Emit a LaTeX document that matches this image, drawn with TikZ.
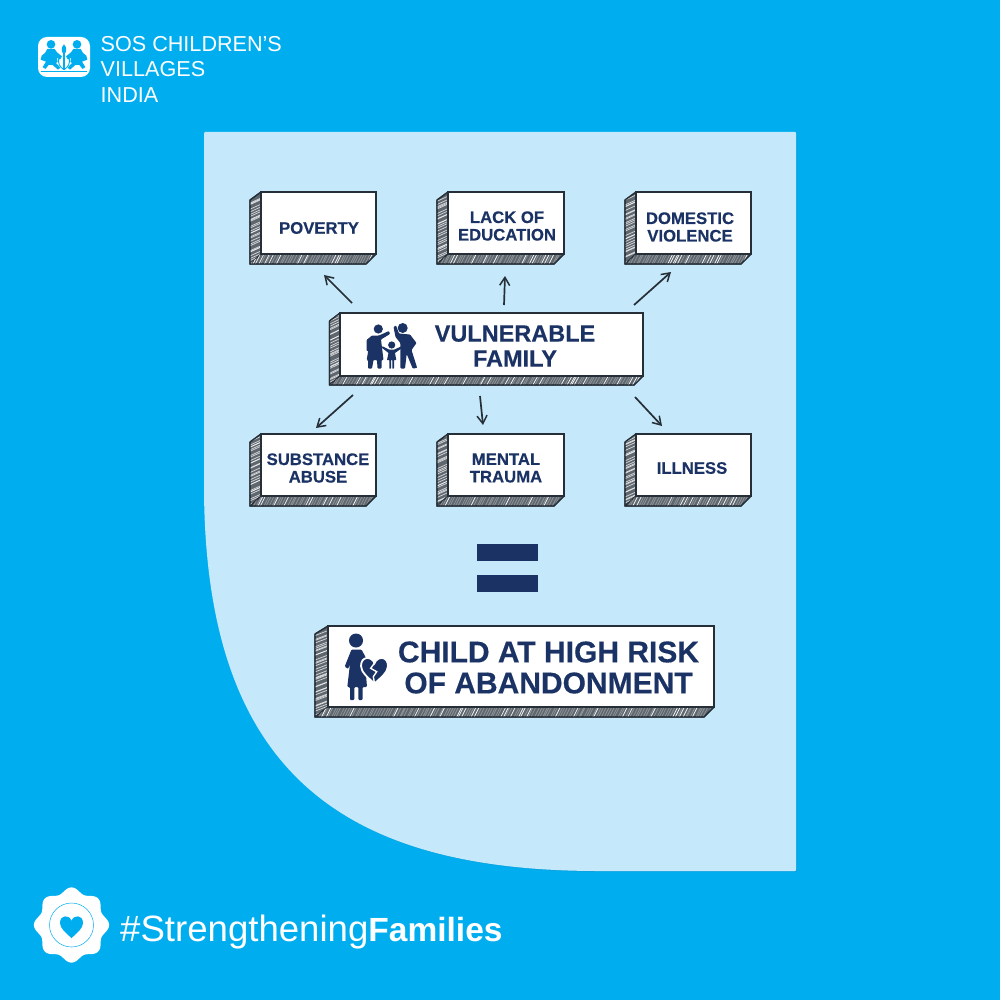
\documentclass[tikz,border=0pt]{standalone}
\usepackage{fontspec}
\setmainfont{Liberation Sans}
\newfontfamily\heavyfont[FakeBold=0.35]{Liberation Sans Bold}
\usetikzlibrary{arrows.meta}
\definecolor{bgblue}{HTML}{00AEEF}
\definecolor{shadeblue}{HTML}{0AA4E2}
\definecolor{paper}{HTML}{C5E8FA}
\definecolor{navy}{HTML}{1B3264}
\definecolor{ink}{HTML}{262F38}
\definecolor{hatchmid}{HTML}{5F676E}
\tikzset{
  front/.style={draw=ink,fill=white,line width=1.4pt,inner sep=0pt,rectangle},
  sidewall/.style={fill=hatchmid,draw=ink,line width=1.2pt,line join=round},
  lab/.style={text=navy,font=\heavyfont\fontsize{16.7}{17.5}\selectfont,align=center,inner sep=0pt},
  biglab/.style={text=navy,font=\heavyfont\fontsize{23.5}{25}\selectfont,align=center,inner sep=0pt},
  hugelab/.style={text=navy,font=\heavyfont\fontsize{30}{31}\selectfont,align=center,inner sep=0pt},
  link/.style={draw=ink,line width=1.7pt,-{Straight Barb[length=8pt,width=10pt,line width=1.5pt]}},
  icon/.style={fill=navy,draw=none},
  whiteicon/.style={fill=white,draw=none},
  blueicon/.style={fill=bgblue,draw=none},
}
% #1 name #2 x0 #3 y0 #4 x1 #5 y1 #6 side depth #7 bottom depth
\newcommand{\solidbox}[7]{%
  \pgfmathsetmacro{\bxFl}{#2+#6}
  \pgfmathsetmacro{\bxFb}{#5-#7}
  \pgfmathsetmacro{\bxSlx}{#4-#7}
  \pgfmathsetmacro{\bxSly}{#3+8}
  % side wall
  \path[sidewall] (#2,\bxSly) -- (\bxFl,#3) -- (\bxFl,\bxFb) -- (#2,#5) -- cycle;
  \begin{scope}
    \clip (#2,\bxSly) -- (\bxFl,#3) -- (\bxFl,\bxFb) -- (#2,#5) -- cycle;
    \pgfmathsetmacro{\bxSta}{#3}
    \pgfmathsetmacro{\bxStb}{#3+2.4}
    \foreach \yy in {\bxSta,\bxStb,...,#5}{
      \pgfmathsetmacro{\bxSh}{rnd*4-2}
      \draw[white,opacity=.72,line width=.75pt] (#2,\yy+\bxSh+2) -- (\bxFl,\yy+\bxSh-3);
    }
  \end{scope}
  % bottom wall
  \path[sidewall] (#2,#5) -- (\bxFl,\bxFb) -- (#4,\bxFb) -- (\bxSlx,#5) -- cycle;
  \begin{scope}
    \clip (#2,#5) -- (\bxFl,\bxFb) -- (#4,\bxFb) -- (\bxSlx,#5) -- cycle;
    \pgfmathsetmacro{\bxSta}{#2}
    \pgfmathsetmacro{\bxStb}{#2+2.6}
    \foreach \xx in {\bxSta,\bxStb,...,#4}{
      \pgfmathsetmacro{\bxSh}{rnd*1.6}
      \pgfmathsetmacro{\bxOp}{rnd<.22 ? .95 : .3}
      \draw[white,opacity=\bxOp,line width=.75pt] (\xx+\bxSh,#5) -- (\xx+\bxSh+5,\bxFb);
    }
  \end{scope}
  \draw[ink,line width=1.2pt,line join=round] (#2,\bxSly) -- (\bxFl,#3) (#2,\bxSly) -- (#2,#5) -- (\bxSlx,#5) -- (#4,\bxFb);
  \pgfmathsetmacro{\bxCx}{(\bxFl+#4)/2}
  \pgfmathsetmacro{\bxCy}{(#3+\bxFb)/2}
  \pgfmathsetmacro{\bxW}{#4-\bxFl}
  \pgfmathsetmacro{\bxH}{\bxFb-#3}
  \node[front,minimum width=\bxW pt,minimum height=\bxH pt] (#1) at (\bxCx,\bxCy) {};
}
\newcommand{\heartpath}[3]{% centre x, centre y, half-width
  (#1,#2+#3) .. controls (#1-#3*.5,#2+#3*.55) and (#1-#3,#2+#3*.15) .. (#1-#3,#2-#3*.3)
  .. controls (#1-#3,#2-#3*1.05) and (#1-#3*.2,#2-#3*1.05) .. (#1,#2-#3*.5)
  .. controls (#1+#3*.2,#2-#3*1.05) and (#1+#3,#2-#3*1.05) .. (#1+#3,#2-#3*.3)
  .. controls (#1+#3,#2+#3*.15) and (#1+#3*.5,#2+#3*.55) .. (#1,#2+#3) -- cycle
}
\begin{document}
\begin{tikzpicture}[x=1pt,y=-1pt]
\pgfmathsetseed{42}
\useasboundingbox (0,0) rectangle (1000,1000);
\fill[bgblue] (0,0) rectangle (1000,1000);
% paper
\fill[shadeblue] (205,133) -- (797,133) -- (797,872) -- (600,872) .. controls (340,872) and (206,770) .. (205,490) -- cycle;
\fill[paper,rounded corners=1pt] (204,132) -- (796,132) -- (796,871) -- (600,871) .. controls (340,871) and (206,770) .. (204,490) -- cycle;

% logo (coordinates in a 3x crop from (36,35))
\fill[whiteicon,rounded corners=9pt] (38,37) rectangle (90,77);
\begin{scope}[shift={(36,35)},x=.3333pt,y=-.3333pt]
  \fill[blueicon] (45,28) circle (13);
  \fill[blueicon] (123,28) circle (13);
  \fill[blueicon] (34,42) -- (56,42) -- (63,52) -- (78,64) -- (72,74) -- (62,68) -- (65,80) -- (60,84) -- (73,98) -- (66,104) -- (50,90) -- (38,90) -- (28,102) -- (20,96) -- (30,80) -- (14,74) -- (17,62) -- (27,54) -- cycle;
  \fill[blueicon] (134,42) -- (112,42) -- (105,52) -- (90,64) -- (96,74) -- (106,68) -- (103,80) -- (108,84) -- (95,98) -- (102,104) -- (118,90) -- (130,90) -- (140,102) -- (148,96) -- (138,80) -- (154,74) -- (151,62) -- (141,54) -- cycle;
  \fill[blueicon] (84,28) .. controls (74,38) and (76,52) .. (84,58) .. controls (92,52) and (94,38) .. (84,28) -- cycle;
  \draw[bgblue,line width=1.1pt] (84,55) -- (84,106);
  \draw[bgblue,line width=.9pt] (84,104) .. controls (70,96) and (66,84) .. (68,72) (84,104) .. controls (98,96) and (102,84) .. (100,72);
  \draw[bgblue,line width=.9pt] (14,108) -- (154,108);
\end{scope}
\node[text=white,font=\fontsize{21.6}{25.5}\selectfont,align=left,inner sep=0pt,anchor=north west] (logotext) at (100.5,36) {SOS CHILDREN'S\\VILLAGES\\INDIA};

% top row
\solidbox{poverty}{250}{192}{376}{264}{11}{10}
\solidbox{lack}{437}{192}{564}{264}{11}{10}
\solidbox{domestic}{625}{192}{751}{264}{11}{10}
% middle
\solidbox{family}{329.5}{313}{643}{385}{10.5}{9}
% lower row
\solidbox{substance}{250}{434}{376}{506}{11}{10}
\solidbox{mental}{437}{434}{564}{506}{11}{10}
\solidbox{illness}{625}{434}{751}{506}{11}{10}
% result
\solidbox{child}{315}{626}{714}{717}{13}{10}

\node[lab] (tpoverty) at (319,228) {POVERTY};
\node[lab] (tlack) at (507,226) {LACK OF\\EDUCATION};
\node[lab] (tdomestic) at (690,227) {DOMESTIC\\VIOLENCE};
\node[lab] (tsubstance) at (318,468) {SUBSTANCE\\ABUSE};
\node[lab] (tmental) at (506,468) {MENTAL\\TRAUMA};
\node[lab] (tillness) at (692,468) {ILLNESS};
\node[biglab] (tfamily) at (515,346) {VULNERABLE\\FAMILY};
\node[hugelab] (tchild) at (548.5,667.5) {CHILD AT HIGH RISK\\OF ABANDONMENT};

% family icon
\fill[icon] (378.3,329) circle (4.6);
\fill[icon] (402.7,328) circle (5);
\fill[icon] (391.7,345) circle (3.6);
% woman
\fill[icon,rounded corners=.8pt] (372,335.5) -- (379,335.5) -- (389,331) -- (390,334) -- (381,339.5) -- (383.5,360) -- (381.5,360) -- (381.5,368.5) -- (377.5,368.5) -- (377,360) -- (373.5,360) -- (372,368.5) -- (368,368.5) -- (368,360) -- (366.7,360) -- (369,346) -- (369.5,351) -- (366.5,351) -- (366.5,340) -- cycle;
% man
\fill[icon,rounded corners=.8pt] (393.5,327) -- (396,325.5) -- (399,333.5) -- (410,334.5) -- (416.5,343) -- (411.5,350) -- (417.2,368) -- (412.7,368.5) -- (406.7,354) -- (405,368.5) -- (400.5,368.5) -- (400.3,343) -- (395.5,337) -- cycle;
% child
\fill[icon,rounded corners=.4pt] (381.5,347.5) -- (382.5,346.3) -- (389,349.5) -- (394.5,349.5) -- (401.5,346.3) -- (402.7,347.5) -- (395,353) -- (396.3,360) -- (394,360) -- (394,368.5) -- (392.3,368.5) -- (392.3,360) -- (391,360) -- (391,368.5) -- (389.3,368.5) -- (389.3,360) -- (387,360) -- (388.5,353) -- cycle;

% child icon
\fill[icon] (356,640.5) circle (7);
\fill[icon,rounded corners=1pt] (351.5,649.5) -- (361.5,649.5) -- (366,658) -- (366,675) -- (367,687) -- (362.7,687) -- (362.7,700) -- (358.3,700) -- (358.3,687) -- (354.3,687) -- (354.3,700) -- (350,700) -- (350,687) -- (347.3,687) -- (350,664) -- (348,669) -- (344.7,666.5) -- cycle;
\fill[icon,draw=white,line width=1.8pt] \heartpath{374.5}{670}{13.5};
\draw[white,line width=1.4pt] (374.5,663) -- (370.7,668.3) -- (376.7,671.7) -- (373.3,676.7) -- (374.5,683.5);

% arrows
\coordinate (a1) at (352,303); \coordinate (b1) at (324,275);
\coordinate (a2) at (504,305); \coordinate (b2) at (505,276);
\coordinate (a3) at (634,305); \coordinate (b3) at (671,272);
\coordinate (a4) at (353,395); \coordinate (b4) at (316,428);
\coordinate (a5) at (480,396); \coordinate (b5) at (483,425);
\coordinate (a6) at (635,397); \coordinate (b6) at (662,426);
\draw[link] (a1) -- (b1);
\draw[link] (a2) -- (b2);
\draw[link] (a3) -- (b3);
\draw[link] (a4) -- (b4);
\draw[link] (a5) -- (b5);
\draw[link] (a6) -- (b6);

% equals
\fill[navy] (477,544) rectangle (538,561);
\fill[navy] (477,575) rectangle (538,592);

% badge
\fill[whiteicon] plot[samples=193,domain=0:360,variable=\t] ({71.5+(35+2.6*cos(8*\t))*cos(\t)},{925+(35+2.6*cos(8*\t))*sin(\t)}) -- cycle;
\draw[bgblue,line width=.5pt] (71.5,925) circle (22);
\fill[blueicon] \heartpath{71.5}{926.5}{11.5};
\node[text=white,inner sep=0pt,anchor=base west] (tag) at (120,941) {\fontsize{36.6}{40}\selectfont\#Strengthening\fontsize{33.5}{40}\selectfont\bfseries Families};
\end{tikzpicture}
\end{document}
